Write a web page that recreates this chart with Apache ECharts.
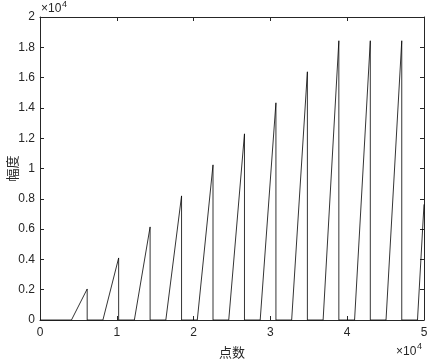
<!DOCTYPE html>
<html>
<head>
<meta charset="utf-8">
<script src="https://cdn.jsdelivr.net/npm/echarts@6/dist/echarts.min.js"></script>
<style>
html,body{margin:0;padding:0;background:#fff;}
#c{width:429px;height:360px;}
</style>
</head>
<body>
<div id="c"></div>
<script>
// Sawtooth vertices (point index, amplitude)
var pointX = [0, 4096, 6144, 6144, 8192, 10240, 10240, 12288, 14336, 14336, 16384, 18432, 18432,
  20480, 22528, 22528, 24576, 26624, 26624, 28672, 30720, 30720, 32768, 34816, 34816,
  36864, 38912, 38912, 40960, 43008, 43008, 45056, 47104, 47104, 49152, 50000];
var amplitude = [0, 0, 2048, 0, 0, 4096, 0, 0, 6144, 0, 0, 8192, 0,
  0, 10240, 0, 0, 12288, 0, 0, 14336, 0, 0, 16384, 0,
  0, 18432, 0, 0, 18432, 0, 0, 18432, 0, 0, 7632];
var xTickLabels = ['0', '1', '2', '3', '4', '5'];
var yTickLabels = ['0', '0.2', '0.4', '0.6', '0.8', '1', '1.2', '1.4', '1.6', '1.8', '2'];

var data = pointX.map(function (x, i) { return [x, amplitude[i]]; });
var axisColor = '#262626';
var font = 'Liberation Sans, Arial, sans-serif';

var chart = echarts.init(document.getElementById('c'), null, {renderer: 'canvas'});
function baseX(pos, show) {
  return {
    type: 'value', position: pos, min: 0, max: 50000, interval: 10000,
    axisLine: {show: true, onZero: false, lineStyle: {color: axisColor, width: 1}},
    axisTick: {show: true, inside: true, length: 4, lineStyle: {color: axisColor}},
    axisLabel: {show: show, color: axisColor, fontSize: 12, fontFamily: font, margin: 7,
      formatter: function (v) { return xTickLabels[Math.round(v / 10000)]; }},
    splitLine: {show: false}
  };
}
function baseY(pos, show) {
  return {
    type: 'value', position: pos, min: 0, max: 20000, interval: 2000,
    axisLine: {show: true, onZero: false, lineStyle: {color: axisColor, width: 1}},
    axisTick: {show: true, inside: true, length: 4, lineStyle: {color: axisColor}},
    axisLabel: {show: show, color: axisColor, fontSize: 12, fontFamily: font, margin: 5,
      formatter: function (v) { return yTickLabels[Math.round(v / 2000)]; }},
    splitLine: {show: false}
  };
}
var xb = baseX('bottom', true);
xb.name = '点数';
xb.nameLocation = 'middle';
xb.nameGap = 32;
xb.nameMoveOverlap = false;
xb.nameTextStyle = {color: axisColor, fontSize: 13, fontFamily: 'Noto Sans CJK SC', verticalAlign: 'middle'};
var yl = baseY('left', true);
yl.name = '幅度';
yl.nameLocation = 'middle';
yl.nameGap = 28;
yl.nameMoveOverlap = false;
yl.nameTextStyle = {color: axisColor, fontSize: 13, fontFamily: 'Noto Sans CJK SC', verticalAlign: 'middle'};

chart.setOption({
  animation: false,
  backgroundColor: '#fff',
  grid: {left: 40, right: 5, top: 17, bottom: 40, containLabel: false, outerBoundsMode: 'none'},
  xAxis: [xb, baseX('top', false)],
  yAxis: [yl, baseY('right', false)],
  graphic: [
    {type: 'text', left: 41, top: 3, style: {text: '×10', fill: axisColor, font: '12px ' + font}},
    {type: 'text', left: 62, top: 0, style: {text: '4', fill: axisColor, font: '9px ' + font}},
    {type: 'text', left: 396, top: 346, style: {text: '×10', fill: axisColor, font: '12px ' + font}},
    {type: 'text', left: 417, top: 342, style: {text: '4', fill: axisColor, font: '9px ' + font}}
  ],
  series: [{
    type: 'line', data: data, showSymbol: false, symbol: 'none',
    lineStyle: {color: '#000', width: 0.8}, xAxisIndex: 0, yAxisIndex: 0
  }]
});
</script>
</body>
</html>
